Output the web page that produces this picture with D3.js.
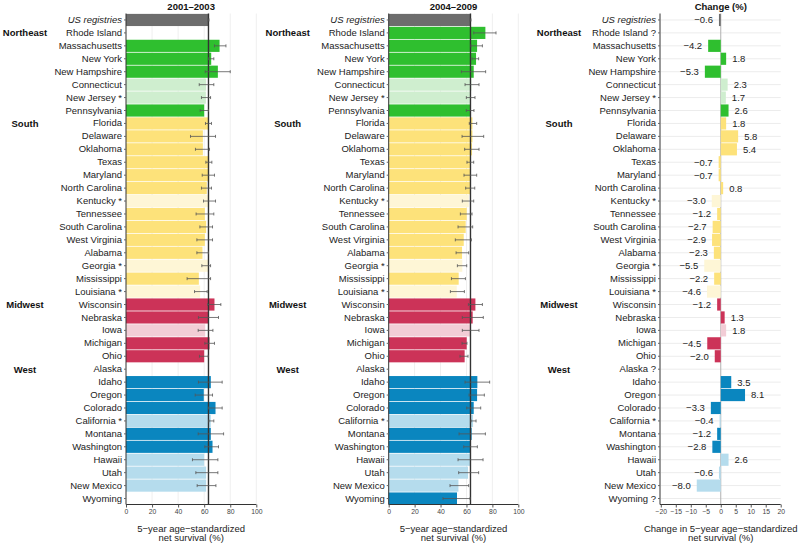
<!DOCTYPE html>
<html>
<head>
<meta charset="utf-8">
<script src="https://cdn.jsdelivr.net/npm/d3@7"></script>
<style>
  body { margin: 0; background: #fff; }
  svg text { font-family: "Liberation Sans", Arial, Helvetica, sans-serif; }
</style>
</head>
<body>
<div id="chart"></div>
<script>
// rows, top to bottom
var states = ["US registries","Rhode Island","Massachusetts","New York","New Hampshire","Connecticut","New Jersey *","Pennsylvania",
  "Florida","Delaware","Oklahoma","Texas","Maryland","North Carolina","Kentucky *","Tennessee","South Carolina","West Virginia",
  "Alabama","Georgia *","Mississippi","Louisiana *",
  "Wisconsin","Nebraska","Iowa","Michigan","Ohio",
  "Alaska","Idaho","Oregon","Colorado","California *","Montana","Washington","Hawaii","Utah","New Mexico","Wyoming"];

var regions = ["US","Northeast","Northeast","Northeast","Northeast","Northeast","Northeast","Northeast",
  "South","South","South","South","South","South","South","South","South","South","South","South","South","South",
  "Midwest","Midwest","Midwest","Midwest","Midwest",
  "West","West","West","West","West","West","West","West","West","West","West"];

// 1 = lighter shade
var light = [0,0,0,0,0,1,1,0, 0,0,0,0,0,0,1,0,0,0,0,1,0,1, 0,0,1,0,0, 0,0,0,0,1,0,0,1,1,1,0];

// 2001-2003 net survival and 95% CI
var surv1 = [63.3,null,71.8,65.4,70.5,61.5,61.3,60.0, 63.3,59.0,59.0,63.8,63.8,62.0,63.8,60.5,61.5,60.5,58.7,63.1,55.9,56.9, 67.9,63.3,60.8,64.1,60.0, null,65.1,59.7,68.7,65.1,65.1,66.4,60.0,61.5,61.5,null];
var lo1   = [62.9,null,67.9,63.3,60.8,56.2,57.9,56.9, 61.0,49.5,53.3,61.3,58.5,57.9,59.5,53.8,56.7,54.4,54.4,58.2,46.9,52.6, 62.6,55.6,55.4,60.5,56.4, null,55.6,53.1,63.3,63.6,55.4,60.5,51.0,53.6,54.6,null];
var hi1   = [63.7,null,76.7,67.4,80.0,67.4,64.9,63.3, 65.6,68.7,64.1,65.9,67.9,65.6,68.7,67.4,66.4,66.4,63.3,64.9,64.9,62.3, 72.8,71.0,66.7,67.9,63.1, null,73.8,66.4,73.8,67.4,74.9,71.0,70.5,70.5,69.0,null];

// 2004-2009
var surv2 = [63.1,74.6,68.2,67.4,65.6,63.8,63.3,63.3, 64.6,64.6,64.3,63.0,63.0,63.0,61.8,60.2,59.4,57.9,56.6,56.8,54.0,52.5, 66.9,64.8,63.0,60.2,58.6, null,68.4,68.2,65.6,65.1,64.0,63.3,63.1,61.2,53.8,52.7];
var lo2   = [62.8,65.6,63.5,64.3,56.1,58.9,59.9,59.9, 62.2,56.6,58.6,60.4,58.1,59.4,56.8,55.3,53.5,51.4,52.0,53.0,48.4,47.6, 61.5,56.8,56.8,56.6,55.0, null,58.9,62.0,60.2,63.5,54.3,57.9,53.5,54.0,47.3,41.9];
var hi2   = [63.5,82.8,72.3,69.4,74.8,69.7,66.6,65.8, 67.9,73.3,69.7,65.6,67.9,66.4,65.6,64.3,64.8,63.8,61.7,60.2,59.2,58.4, 72.3,73.0,69.7,60.4,61.2, null,77.9,73.8,71.0,67.4,74.6,68.4,72.8,69.4,61.7,62.8];

// change (%)
var change = [-0.6,null,-4.2,1.8,-5.3,2.3,1.7,2.6, 1.8,5.8,5.4,-0.7,-0.7,0.8,-3.0,-1.2,-2.7,-2.9,-2.3,-5.5,-2.2,-4.6, -1.2,1.3,1.8,-4.5,-2.0, null,3.5,8.1,-3.3,-0.4,-1.2,-2.8,2.6,-0.6,-8.0,null];

var survTicks = [0,20,40,60,80,100];
var changeTicks = [-20,-15,-10,-5,0,5,10,15,20];
var regionNames = ["Northeast","South","Midwest","West"];

var colors = {
  US:        ["#6d6d6d","#6d6d6d"],
  Northeast: ["#2fbf2f","#cfeecf"],
  South:     ["#fde27a","#fef6d6"],
  Midwest:   ["#cc3358","#f2cdd6"],
  West:      ["#0a86bf","#b5dced"]
};
function fillOf(i){ return colors[regions[i]][light[i]]; }

var w = 800, h = 544;
var svg = d3.select("#chart").append("svg").attr("width", w).attr("height", h);

var rows = d3.range(states.length);
var y = d3.scaleBand().domain(rows).range([13.5, 505]).paddingInner(0.06).paddingOuter(0.03);
var yc = function(i){ return y(i) + y.bandwidth()/2; };
var fmt = d3.format(".1f");
var fs = 9.5;

function panel(opt){
  var x = d3.scaleLinear().domain(opt.domain).range(opt.range);
  var g = svg.append("g");
  var x0 = opt.range[0], x1 = opt.range[1];

  // grid
  if (opt.kind == "change") {
    g.selectAll(".hg").data(rows).enter().append("line")
      .attr("x1", x0).attr("x2", x1).attr("y1", yc).attr("y2", yc)
      .attr("stroke", "#ececec").attr("stroke-width", 1);
  } else {
    g.selectAll(".vg").data(opt.ticks.slice(1)).enter().append("line")
      .attr("x1", x).attr("x2", x).attr("y1", 13.5).attr("y2", 504.5)
      .attr("stroke", "#efefef").attr("stroke-width", 1);
  }

  if (opt.kind == "change") {
    var idx = rows.filter(function(i){ return change[i] != null; });
    g.append("line").attr("x1", x(0)).attr("x2", x(0)).attr("y1", 13.5).attr("y2", 504.5)
      .attr("stroke", "#b0b0b0").attr("stroke-width", 1);
    g.selectAll(".bar").data(idx).enter().append("rect")
      .attr("x", function(i){ return Math.min(x(0), x(change[i])); })
      .attr("width", function(i){ return Math.abs(x(change[i]) - x(0)); })
      .attr("y", function(i){ return y(i); })
      .attr("height", y.bandwidth())
      .attr("fill", fillOf);
    g.selectAll(".val").data(idx).enter().append("text")
      .attr("x", function(i){ return change[i] < 0 ? x(change[i]) - 6 : x(change[i]) + 6; })
      .attr("y", function(i){ return yc(i) + 3.4; })
      .attr("text-anchor", function(i){ return change[i] < 0 ? "end" : "start"; })
      .attr("font-size", fs).attr("fill", "#222")
      .text(function(i){ return fmt(change[i]); });
  } else {
    var v = opt.v, lo = opt.lo, hi = opt.hi;
    var idx = rows.filter(function(i){ return v[i] != null; });
    g.selectAll(".bar").data(idx).enter().append("rect")
      .attr("x", x(0))
      .attr("width", function(i){ return x(v[i]) - x(0); })
      .attr("y", function(i){ return y(i); })
      .attr("height", y.bandwidth())
      .attr("fill", fillOf);
    // reference line at US value
    g.append("line").attr("x1", x(v[0])).attr("x2", x(v[0])).attr("y1", 13.5).attr("y2", 504.5)
      .attr("stroke", "#333").attr("stroke-width", 1.4);
    var eb = g.selectAll(".eb").data(idx).enter().append("g").attr("stroke", "#555").attr("stroke-width", 0.8);
    eb.append("line").attr("x1", function(i){ return x(lo[i]); }).attr("x2", function(i){ return x(hi[i]); })
      .attr("y1", yc).attr("y2", yc);
    eb.append("line").attr("x1", function(i){ return x(lo[i]); }).attr("x2", function(i){ return x(lo[i]); })
      .attr("y1", function(i){ return yc(i) - 1.5; }).attr("y2", function(i){ return yc(i) + 1.5; });
    eb.append("line").attr("x1", function(i){ return x(hi[i]); }).attr("x2", function(i){ return x(hi[i]); })
      .attr("y1", function(i){ return yc(i) - 1.5; }).attr("y2", function(i){ return yc(i) + 1.5; });
  }

  // left axis with state names
  var yAxis = d3.axisLeft(y).tickSize(2).tickPadding(2)
    .tickFormat(function(i){ return (opt.kind == "change" && change[i] == null) ? states[i] + " ?" : states[i]; });
  var ya = g.append("g").attr("transform", "translate(" + (opt.axisX) + ",0)").call(yAxis);
  ya.select(".domain").attr("stroke", "#333").attr("d", "M0,13.5V504.5");
  ya.selectAll(".tick line").attr("stroke", "#666");
  ya.selectAll(".tick text").attr("font-size", fs).attr("fill", "#222")
    .style("font-style", function(i){ return i == 0 ? "italic" : "normal"; });

  // bottom axis
  var xAxis = d3.axisBottom(x).tickValues(opt.ticks).tickSize(3).tickPadding(2).tickFormat(d3.format("d"));
  var xa = g.append("g").attr("transform", "translate(0,504.5)").call(xAxis);
  xa.select(".domain").attr("stroke", "#333").attr("d", "M" + opt.axisX + ",0H" + x1);
  xa.selectAll(".tick line").attr("stroke", "#555");
  xa.selectAll(".tick text").attr("font-size", 6.8).attr("fill", "#444");

  // titles
  var cx = (x0 + x1) / 2;
  g.append("text").attr("x", cx).attr("y", 9.5).attr("text-anchor", "middle")
    .attr("font-size", fs).attr("font-weight", "bold").attr("fill", "#111").text(opt.title);
  g.append("text").attr("x", cx).attr("y", 531.5).attr("text-anchor", "middle")
    .attr("font-size", fs).attr("fill", "#222").text(opt.xlab);
  g.append("text").attr("x", cx).attr("y", 541).attr("text-anchor", "middle")
    .attr("font-size", fs).attr("fill", "#222").text("net survival (%)");

  // region labels
  regionNames.forEach(function(r){
    var i = regions.indexOf(r);
    g.append("text").attr("x", opt.axisX - 101).attr("y", yc(i) + 3.4).attr("text-anchor", "middle")
      .attr("font-size", fs).attr("font-weight", "bold").attr("fill", "#111").text(r);
  });
}

panel({kind: "surv", v: surv1, lo: lo1, hi: hi1, domain: [0,100], range: [126,256.3], axisX: 126,
  ticks: survTicks, title: "2001\u20132003", xlab: "5\u2212year age\u2212standardized"});
panel({kind: "surv", v: surv2, lo: lo2, hi: hi2, domain: [0,100], range: [388.7,518.3], axisX: 388.7,
  ticks: survTicks, title: "2004\u20132009", xlab: "5\u2212year age\u2212standardized"});
panel({kind: "change", domain: [-20,20], range: [660.8,780.7], axisX: 660,
  ticks: changeTicks, title: "Change (%)", xlab: "Change in 5\u2212year age\u2212standardized"});
</script>
</body>
</html>
